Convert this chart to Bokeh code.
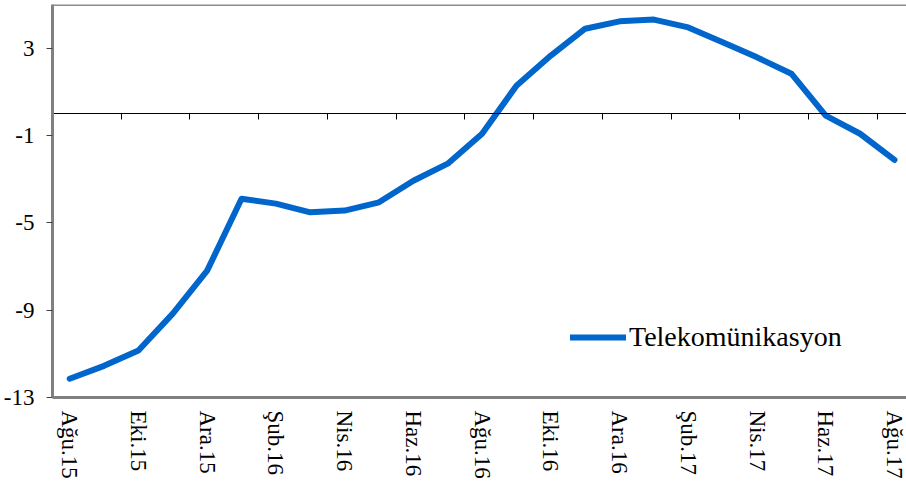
import math
from bokeh.plotting import figure
from bokeh.models import LinearAxis, FixedTicker, Span, Legend, LegendItem, Range1d
from bokeh.embed import file_html
from bokeh.resources import INLINE

months = ["Ağu.15", "Eyl.15", "Eki.15", "Kas.15", "Ara.15", "Oca.16", "Şub.16",
          "Mar.16", "Nis.16", "May.16", "Haz.16", "Tem.16", "Ağu.16", "Eyl.16",
          "Eki.16", "Kas.16", "Ara.16", "Oca.17", "Şub.17", "Mar.17", "Nis.17",
          "May.17", "Haz.17", "Tem.17", "Ağu.17"]
values = [-12.14, -11.55, -10.85, -9.16, -7.19, -3.9, -4.12, -4.52, -4.44, -4.06,
          -3.07, -2.29, -0.92, 1.28, 2.66, 3.89, 4.23, 4.31, 3.95, 3.27,
          2.58, 1.83, -0.09, -0.92, -2.12]
series_name = "Telekomünikasyon"
y_ticks = [-13, -9, -5, -1, 3]
y_tick_labels = ["-13", "-9", "-5", "-1", "3"]

x = list(range(len(months)))
label_idx = list(range(0, len(months), 2))
between_ticks = [i + 1.5 for i in range(0, len(months) - 1, 2)]

FONT = "Liberation Serif"

p = figure(width=906, height=490, output_backend="svg", toolbar_location=None,
           x_range=Range1d(-0.5, 24.35), y_range=Range1d(-13, 5),
           x_axis_location=None, y_axis_location=None,
           min_border_left=51, min_border_right=0, min_border_top=4,
           min_border_bottom=93)
p.outline_line_color = None
p.background_fill_color = "white"
p.border_fill_color = "white"
for g in p.grid:
    g.visible = False

# left axis
yax = LinearAxis(ticker=FixedTicker(ticks=y_ticks),
                 major_label_overrides=dict(zip(y_ticks, y_tick_labels)))
yax.axis_line_color = "#808080"
yax.axis_line_width = 3
yax.major_tick_line_color = "#404040"
yax.major_tick_out = 6
yax.major_tick_in = 0
yax.minor_tick_line_color = None
yax.major_label_standoff = 12
yax.major_label_text_font = FONT
yax.major_label_text_font_size = "23px"
yax.major_label_text_color = "black"
p.add_layout(yax, "left")

# bottom axis with labels
xax = LinearAxis(ticker=FixedTicker(ticks=label_idx),
                 major_label_overrides={i: months[i] for i in label_idx})
xax.axis_line_color = "#808080"
xax.axis_line_width = 3
xax.major_tick_line_color = None
xax.minor_tick_line_color = None
xax.major_tick_out = 0
xax.major_tick_in = 0
xax.major_label_orientation = -math.pi / 2
xax.major_label_standoff = 13
xax.major_label_text_font = FONT
xax.major_label_text_font_size = "23px"
xax.major_label_text_color = "black"
p.add_layout(xax, "below")

# zero line axis with tick marks between category pairs
zax = LinearAxis(ticker=FixedTicker(ticks=between_ticks), fixed_location=0)
zax.axis_line_color = "black"
zax.axis_line_width = 1
zax.major_tick_line_color = "black"
zax.major_tick_out = 6
zax.major_tick_in = 0
zax.minor_tick_line_color = None
zax.major_label_text_font_size = "0px"
zax.major_label_text_alpha = 0
p.add_layout(zax, "below")

# top border
p.add_layout(Span(location=5, dimension="width", line_color="#8c8c8c", line_width=3))

r = p.line(x, values, line_color="#0066CC", line_width=6, line_cap="round", line_join="round")

legend = Legend(items=[LegendItem(label=series_name, renderers=[r])],
                location=(518, 44), border_line_color=None, background_fill_alpha=0,
                padding=0, spacing=0, margin=0, glyph_width=56, glyph_height=30,
                label_height=30, label_standoff=3, label_text_font=FONT,
                label_text_font_size="28px", label_text_color="black")
p.add_layout(legend)

open("out.html", "w").write(file_html(p, INLINE))
